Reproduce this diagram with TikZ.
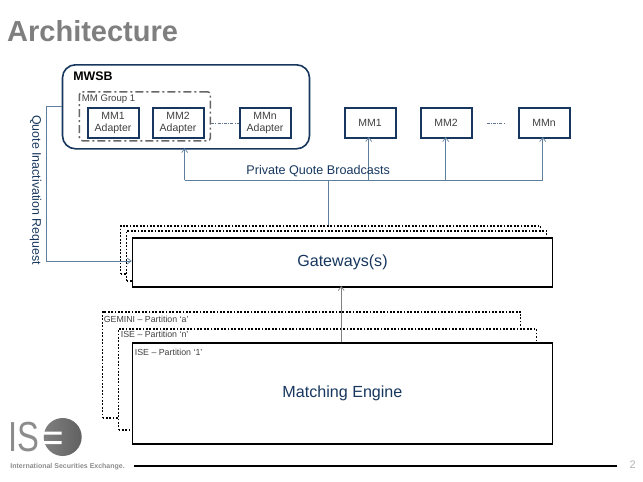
\documentclass[tikz,border=0pt]{standalone}
\usepackage{fontspec}
\setmainfont{Liberation Sans}
\usetikzlibrary{arrows.meta,shadings}
\definecolor{navy}{HTML}{17375E}
\definecolor{conn}{HTML}{5F7F9F}
\definecolor{titlegray}{HTML}{7F7F7F}
\definecolor{txt}{HTML}{404040}
\tikzset{
  px/.style={x=1pt,y=-1pt},
  mwsbbox/.style={draw=navy,line width=1.6pt,rounded corners=13pt,minimum width=247pt,minimum height=84pt,anchor=north west,inner sep=0pt},
  mmbox/.style={draw=navy,line width=1.8pt,fill=white,minimum width=51pt,minimum height=30pt,anchor=north west,inner sep=0pt,align=center,font=\fontsize{10.5}{12.5}\selectfont,text=txt},
  groupbox/.style={draw=black!60,line width=1.5pt,dash pattern=on 8pt off 3pt on 2pt off 3pt,rounded corners=3pt,minimum width=131pt,minimum height=49pt,anchor=north west,inner sep=0pt},
  solidbox/.style={draw=black,line width=1.5pt,fill=white,minimum width=420pt,anchor=north west,inner sep=0pt,font=\fontsize{16.1}{19}\selectfont,text=navy},
  dotbox/.style={draw=black,line width=1.7pt,dash pattern=on 1.7pt off 1.7pt,fill=white,anchor=north west,inner sep=0pt},
  conn/.style={draw=conn,line width=0.9pt},
  arr/.style={conn,-{Straight Barb[length=4pt,width=6pt,line width=0.7pt]}},
  smalllabel/.style={font=\fontsize{8.8}{10}\selectfont,text=txt,anchor=west,inner sep=0pt},
  bluelabel/.style={font=\fontsize{12.6}{14}\selectfont,text=navy,inner sep=0pt},
  dashlink/.style={draw=navy!70,line width=0.7pt,dash pattern=on 3pt off 1.2pt on 1pt off 1.2pt}
}
\begin{document}
\begin{tikzpicture}[px]
\useasboundingbox (0,0) rectangle (643,482);
\begin{scope}[shift={(-0.3,0)}]
\node[anchor=west,inner sep=0pt,font=\bfseries\fontsize{29}{32}\selectfont,text=titlegray] (title) at (7.3,31) {Architecture};

% MWSB
\node[mwsbbox] (mwsb) at (62,64) {};
\node[anchor=west,inner sep=0pt,font=\bfseries\fontsize{12.4}{14}\selectfont] (mwsblabel) at (73.5,76) {MWSB};
\node[groupbox] (group) at (79,91) {};
\node[anchor=west,inner sep=0pt,font=\fontsize{9.6}{11}\selectfont,text=txt] (grouplabel) at (82,99) {MM Group 1};
\node[mmbox] (a1) at (87,107) {MM1\\Adapter};
\node[mmbox] (a2) at (152,107) {MM2\\Adapter};
\node[mmbox] (an) at (239,107) {MMn\\Adapter};
\draw[dashlink] (group.east |- an.west) -- (an.west);

% Market makers
\node[mmbox] (m1) at (344,107) {MM1};
\node[mmbox] (m2) at (420,107) {MM2};
\node[mmbox] (mn) at (518,107) {MMn};
\draw[dashlink] (m2.east) ++(14,0) -- ++(19,0) coordinate (dashend);

% Gateways stack
\node[dotbox,minimum width=420pt,minimum height=48pt] (g3) at (120,225) {};
\node[dotbox,minimum width=420pt,minimum height=50pt] (g2) at (126,230) {};
\node[solidbox,minimum height=49pt] (gw) at (132,237) {Gateways(s)};

% Matching engine stack
\node[dotbox,minimum width=418pt,minimum height=106pt] (p3) at (102,311) {};
\node[smalllabel] (p3l) at (104,319.5) {GEMINI -- Partition ‘a’};
\node[dotbox,minimum width=418pt,minimum height=101pt] (p2) at (118,328) {};
\node[smalllabel] (p2l) at (121,334.5) {ISE -- Partition ‘n’};
\node[solidbox,minimum height=101pt] (me) at (132,342) {Matching Engine};
\node[smalllabel] (p1l) at (135,352) {ISE -- Partition ‘1’};

% Connectors
\coordinate (busl) at (185,180);
\coordinate (busr) at (543,180);
\draw[conn] (busl) -- (busr);
\draw[arr] (busl) -- (185,148);
\draw[arr] (369,180) -- (369,137);
\draw[arr] (446,180) -- (446,137);
\draw[arr] (busr) -- (543,137);
\draw[conn] (328.5,180) -- (g3.north -| 328.5,225);
\node[bluelabel] (pqb) at (318.5,171) {Private Quote Broadcasts};
\draw[conn,draw=black!50,-{Straight Barb[length=4pt,width=6pt,line width=0.7pt]}] (341.5,342) -- (341.5,286);
\draw[arr] (mwsb.west |- 0,106) -- (47,106) -- (47,261) -- (gw.west |- 0,261);
\node[bluelabel,rotate=-90,font=\fontsize{12.4}{14}\selectfont] (qir) at (36,190) {Quote Inactivation Request};

% Logo and footer
\node[anchor=west,inner sep=0pt,xscale=0.78,font=\fontsize{42}{45}\selectfont,text=black!45] (logois) at (8.5,437) {IS};
\shade[left color=black!50,middle color=black!18,right color=black!62] (63,437) circle (19);
\fill[white] (43,431.5) rectangle (62,434.5) (43,441) rectangle (62,444);
\node[anchor=west,inner sep=0pt,font=\bfseries\fontsize{7}{9}\selectfont,text=black!45] (footer) at (10.5,467) {International Securities Exchange.};
\coordinate (fl) at (134,466);
\coordinate (fr) at (617,466);
\draw[black,line width=1.3pt] (fl) -- (fr);
\node[inner sep=0pt,font=\fontsize{11}{13}\selectfont,text=black!30] (page) at (633,465) {2};
\end{scope}
\end{tikzpicture}
\end{document}
